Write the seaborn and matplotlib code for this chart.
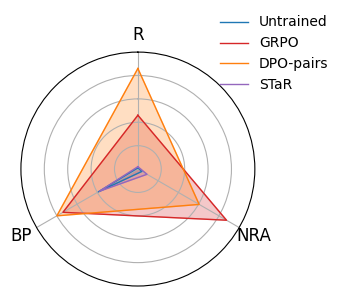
import numpy as np
import matplotlib
matplotlib.use('Agg')
import matplotlib.pyplot as plt
import seaborn as sns

axes_labels = ['R', 'NRA', 'BP']
methods = ['Untrained', 'GRPO', 'DPO-pairs', 'STaR']
untrained = [0.01, 0.04, 0.39]
grpo = [0.46, 0.875, 0.74]
dpo_pairs = [0.86, 0.605, 0.80]
star = [0.02, 0.09, 0.38]
series = [untrained, grpo, dpo_pairs, star]

pal = sns.color_palette('tab10')
colors = [pal[0], pal[3], pal[1], pal[4]]

angles = np.linspace(0, 2 * np.pi, len(axes_labels), endpoint=False).tolist()
angles_closed = angles + angles[:1]

fig = plt.figure(figsize=(3.43, 2.94), dpi=100)
ax = fig.add_axes([0.061, 0.027, 0.682, 0.796], polar=True)
ax.set_theta_offset(np.pi / 2)
ax.set_theta_direction(-1)

for name, vals, c in zip(methods, series, colors):
    v = vals + vals[:1]
    ax.plot(angles_closed, v, color=c, linewidth=1, label=name)
    ax.fill(angles_closed, v, color=c, alpha=0.25)

ax.set_ylim(0, 1)
ax.set_yticks([0.2, 0.4, 0.6, 0.8])
ax.set_yticklabels([])
ax.set_xticks(angles)
ax.set_xticklabels(axes_labels, fontsize=12)
ax.tick_params(axis='x', pad=2)

fig.legend(loc='upper right', bbox_to_anchor=(0.994, 0.99), frameon=False, fontsize=10)

fig.savefig('out.png', dpi=100)
